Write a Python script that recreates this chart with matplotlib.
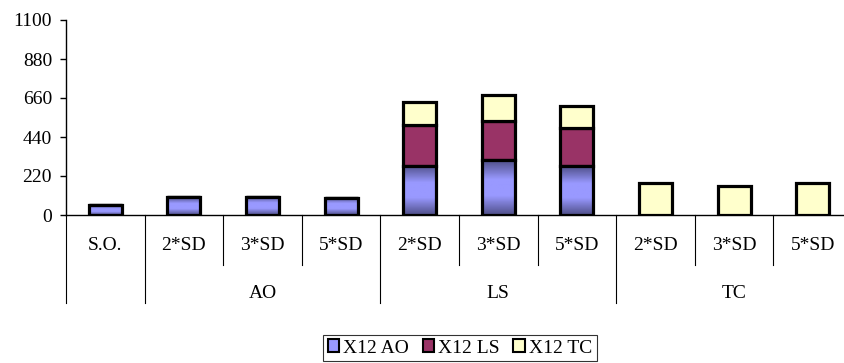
import numpy as np
import matplotlib
matplotlib.use("Agg")
import matplotlib.pyplot as plt
from matplotlib.colors import LinearSegmentedColormap
from matplotlib.patches import Patch
import matplotlib.transforms as mtransforms

plt.rcParams['font.family'] = ['Liberation Serif', 'DejaVu Serif']

# Categories and groups
cat_labels = ["S.O.", "2*SD", "3*SD", "5*SD", "2*SD", "3*SD", "5*SD", "2*SD", "3*SD", "5*SD"]
group_labels = ["AO", "LS", "TC"]
group_spans = [(1, 3), (4, 6), (7, 9)]

# Stacked series values
x12_ao = [55, 100, 102, 97, 278, 308, 276, 0, 0, 0]
x12_ls = [0, 0, 0, 0, 230, 222, 215, 0, 0, 0]
x12_tc = [0, 0, 0, 0, 129, 148, 124, 178, 164, 178]

yticks = [0, 220, 440, 660, 880, 1100]

W, H = 844, 363
FS = 14
fig = plt.figure(figsize=(W / 100, H / 100), dpi=100)
ax = fig.add_axes([66 / W, (H - 215) / H, 786 / W, 195 / H])

x = np.arange(len(cat_labels))
bw = 0.42
blue, maroon, yellow = "#9999FF", "#993366", "#FFFFCC"
blue_cmap = LinearSegmentedColormap.from_list(
    "bluegrad", [(0.0, "#50508A"), (0.35, "#9999FF"), (0.65, "#9999FF"), (1.0, "#50508A")])

ao = np.array(x12_ao, float)
ls = np.array(x12_ls, float)
tc = np.array(x12_tc, float)

bars_ao = ax.bar(x, ao, bw, color=blue, edgecolor="black", linewidth=2.3, zorder=3)
ax.bar(x, ls, bw, bottom=ao, color=maroon, edgecolor="black", linewidth=2.3, zorder=3)
ax.bar(x, tc, bw, bottom=ao + ls, color=yellow, edgecolor="black", linewidth=2.3, zorder=3)

# vertical shading inside the blue segments
grad = np.linspace(0, 1, 64).reshape(-1, 1)
for b in bars_ao:
    h = b.get_height()
    if h <= 0:
        continue
    x0 = b.get_x()
    im = ax.imshow(grad, cmap=blue_cmap, aspect="auto",
                   extent=[x0, x0 + b.get_width(), 0, h], zorder=3.5)
    im.set_clip_path(b)
    b.set_facecolor("none")
    b.set_zorder(4)

ax.set_xlim(-0.5, len(cat_labels) - 0.5)
ax.set_ylim(0, 1100)
ax.set_yticks(yticks)
ax.set_yticklabels([str(v) for v in yticks], fontsize=FS)
ax.tick_params(axis="y", direction="out", length=4.5, width=1, pad=5.5)
ax.set_xticks([])
for s in ["top", "right"]:
    ax.spines[s].set_visible(False)
ax.spines["left"].set_linewidth(1)
ax.spines["bottom"].set_linewidth(1)

# two-level category axis
trans = mtransforms.blended_transform_factory(ax.transData, ax.transAxes)
minor_depth = -50 / 195
major_depth = -88 / 195
for i, lab in enumerate(cat_labels):
    ax.text(i, -30 / 195, lab, transform=trans, ha="center", va="center", fontsize=FS)
major_edges = [-0.5, 0.5, 3.5, 6.5, 9.5]
for e in np.arange(-0.5, len(cat_labels)):
    depth = major_depth if e in major_edges else minor_depth
    ax.plot([e, e], [0, depth], transform=trans, color="black", lw=0.8, clip_on=False)
for lab, (a, b) in zip(group_labels, group_spans):
    ax.text((a + b) / 2, -78 / 195, lab, transform=trans, ha="center", va="center", fontsize=FS)

handles = [Patch(facecolor=blue, edgecolor="black", linewidth=1.5),
           Patch(facecolor=maroon, edgecolor="black", linewidth=1.5),
           Patch(facecolor=yellow, edgecolor="black", linewidth=1.5)]
leg = fig.legend(handles, ["X12 AO", "X12 LS", "X12 TC"], loc="center",
                 bbox_to_anchor=(460 / W, 15 / H), ncol=3, fontsize=FS,
                 frameon=True, fancybox=False, edgecolor="black",
                 handlelength=0.6, handleheight=0.6, handletextpad=0.2,
                 columnspacing=0.7, borderpad=0.25, borderaxespad=0)
leg.get_frame().set_linewidth(0.8)

fig.savefig("out.png", dpi=100)
